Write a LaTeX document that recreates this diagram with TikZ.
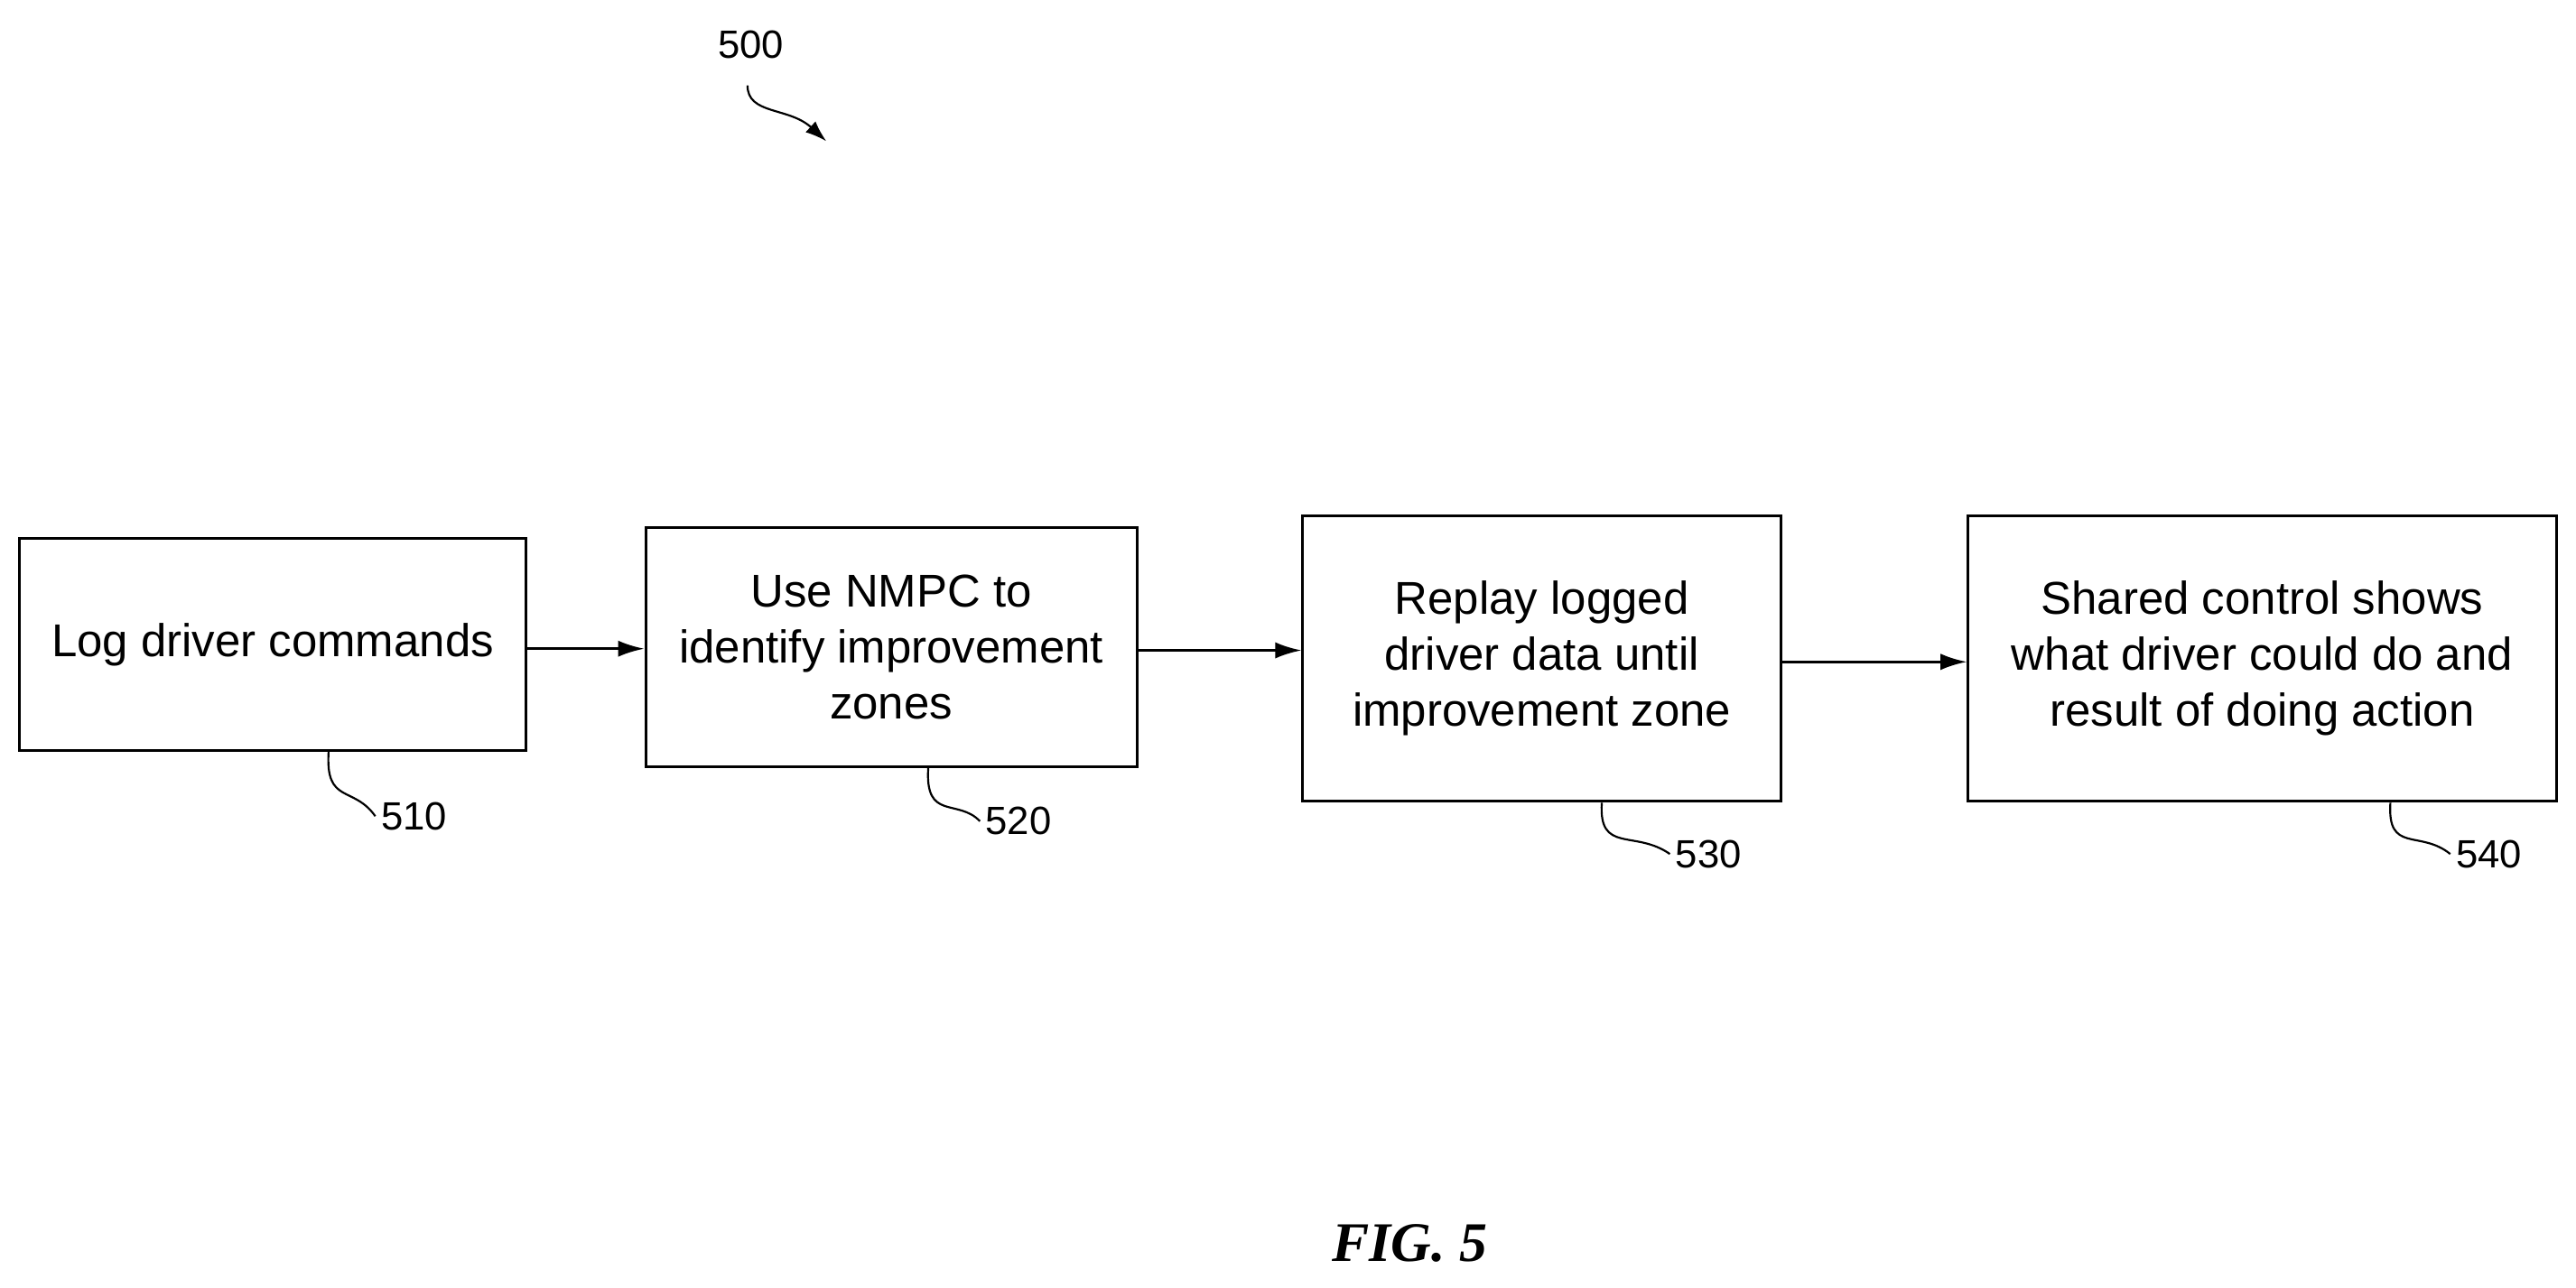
\documentclass[tikz,border=0pt]{standalone}
\usepackage{fontspec}
\setmainfont{Liberation Sans}
\newfontfamily\seriff{Liberation Serif}
\usetikzlibrary{arrows.meta}
\begin{document}
\begin{tikzpicture}[x=1pt,y=-1pt,
 box/.style={draw,line width=1.6pt,align=center,font=\fontsize{28}{34}\selectfont},
 lbl/.style={font=\fontsize{24}{28}\selectfont},
 arr/.style={line width=1.6pt,-{Latex[length=16pt,width=10pt]}},
 lead/.style={line width=1.2pt}]
\useasboundingbox (0,0) rectangle (1568,784);
\node[box,minimum width=308pt,minimum height=129pt] (b1) at (166,392.5) {Log driver commands};
\node[box,minimum width=299pt,minimum height=146pt] (b2) at (542.5,394) {Use NMPC to\\identify improvement\\zones};
\node[box,minimum width=291pt,minimum height=174pt] (b3) at (938.5,401) {Replay logged\\driver data until\\improvement zone};
\node[box,minimum width=358pt,minimum height=174pt] (b4) at (1377,401) {Shared control shows\\what driver could do and\\result of doing action};
\draw[arr] (b1.east |- 0,395) -- (b2.west |- 0,395);
\draw[arr] (b2.east |- 0,396) -- (b3.west |- 0,396);
\draw[arr] (b3.east |- 0,403) -- (b4.west |- 0,403);
\node[lbl] (l1) at (252,497) {510};
\node[lbl] (l2) at (620,500) {520};
\node[lbl] (l3) at (1040,520) {530};
\node[lbl] (l4) at (1515,520) {540};
\coordinate (c1) at (200,457.8);
\coordinate (c2) at (565,467.8);
\coordinate (c3) at (975,488.8);
\coordinate (c4) at (1455,488.8);
\draw[lead] (c1) .. controls (198,490) and (215,478) .. (l1.west);
\draw[lead] (c2) .. controls (563,500) and (583,486) .. (l2.west);
\draw[lead] (c3) .. controls (973,520) and (995,505) .. (l3.west);
\draw[lead] (c4) .. controls (1453,520) and (1473,505) .. (l4.west);
\node[lbl] (l0) at (457,27) {500};
\coordinate (a0) at (503,86);
\draw[line width=1.2pt,-{Latex[length=13pt,width=9pt]}] (455,52) .. controls (455,70) and (480,65) .. (a0);
\node[font=\seriff\bfseries\itshape\fontsize{34}{40}\selectfont] (fig) at (858,757) {FIG. 5};
\end{tikzpicture}
\end{document}
